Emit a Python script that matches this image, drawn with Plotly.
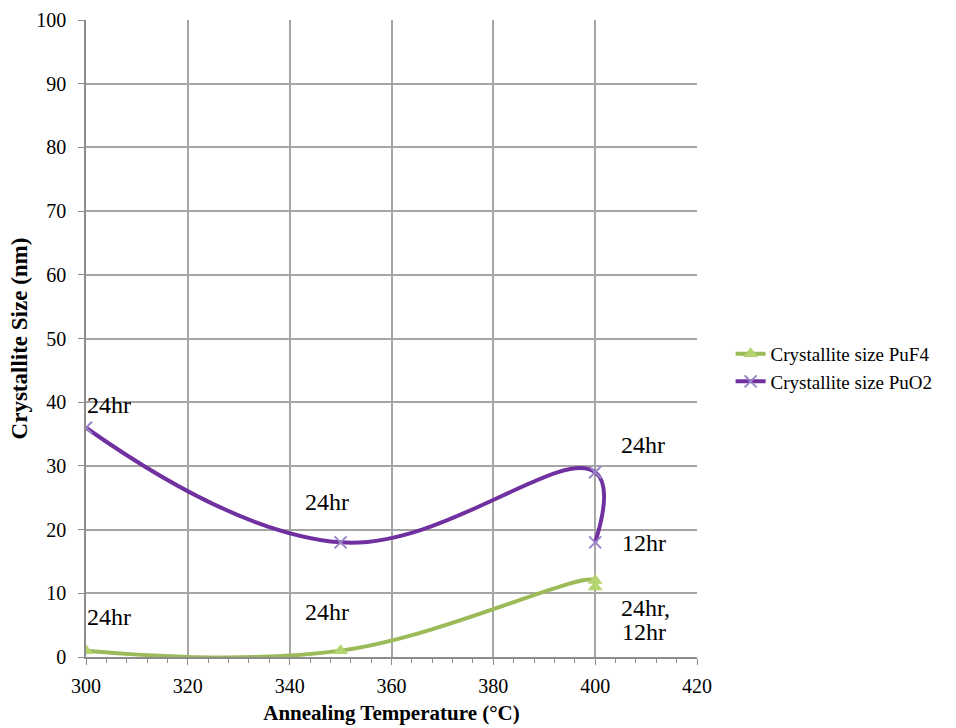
import plotly.graph_objects as go

temp_puf4 = [300, 350, 400, 400]
size_puf4 = [1, 1, 12, 11]
temp_puo2 = [300, 350, 400, 400]
size_puo2 = [36, 18, 29, 18]

ann_x = [300, 350, 400, 400, 300, 350, 400, 400]
ann_y = [39.6, 24.3, 33.3, 17.9, 6.3, 7.1, 7.7, 3.9]
ann_text = ["24hr", "24hr", "24hr", "12hr", "24hr", "24hr", "24hr,", "12hr"]
ann_anchor = ["left", "right", "left", "left", "left", "right", "left", "left"]
ann_shift = [-1, 10, 24, 25, -1, 10, 24, 25]

green = "#9BBB59"
purple = "#7030A0"
serif = "Liberation Serif, Times New Roman, serif"

fig = go.Figure()
fig.add_trace(go.Scatter(
    x=temp_puf4, y=size_puf4, mode="lines+markers", name="Crystallite size PuF4",
    line=dict(color=green, width=4, shape="spline", smoothing=1.2),
    marker=dict(symbol="triangle-up", size=13, color="#B3D46E"),
))
fig.add_trace(go.Scatter(
    x=temp_puo2, y=size_puo2, mode="lines+markers", name="Crystallite size PuO2",
    line=dict(color=purple, width=4, shape="spline", smoothing=1.2),
    marker=dict(symbol="x-thin", size=12, line=dict(color="#9B85C9", width=2)),
))

for x, y, t, a, s in zip(ann_x, ann_y, ann_text, ann_anchor, ann_shift):
    fig.add_annotation(x=x, y=y, text=t, showarrow=False, xanchor=a, xshift=s,
                       align="left", font=dict(family=serif, size=24, color="black"))

fig.update_layout(
    width=956, height=728,
    margin=dict(l=86, r=259, t=20, b=71),
    plot_bgcolor="white", paper_bgcolor="white",
    font=dict(family=serif, size=20, color="black"),
    legend=dict(x=1.055, y=0.454, xanchor="left", yanchor="middle",
                font=dict(family=serif, size=19, color="black"),
                bgcolor="rgba(0,0,0,0)", tracegroupgap=0, itemwidth=30,
                borderwidth=0),
    showlegend=True,
)
fig.update_xaxes(
    range=[300, 420], dtick=20, tick0=300, showgrid=True, gridcolor="#A6A6A6", gridwidth=1.5,
    showline=True, linecolor="#8C8C8C", linewidth=1.5, ticks="outside", ticklen=6,
    tickcolor="#8C8C8C", zeroline=False, ticklabelstandoff=4, automargin=False,
    minor=dict(dtick=4, ticks="outside", ticklen=4, tickcolor="#8C8C8C", showgrid=False),
    title=dict(text="<b>Annealing Temperature (°C)</b>", font=dict(family=serif, size=21), standoff=10),
    tickfont=dict(family=serif, size=20),
)
fig.update_yaxes(
    range=[0, 100], dtick=10, showgrid=True, gridcolor="#A6A6A6", gridwidth=1.5,
    showline=True, linecolor="#8C8C8C", linewidth=1.5, ticks="outside", ticklen=6,
    tickcolor="#8C8C8C", zeroline=False, ticklabelstandoff=8, automargin=False,
    title=dict(text="<b>Crystallite Size (nm)</b>", font=dict(family=serif, size=23), standoff=2),
    tickfont=dict(family=serif, size=20),
)

fig.write_html("out.html")
